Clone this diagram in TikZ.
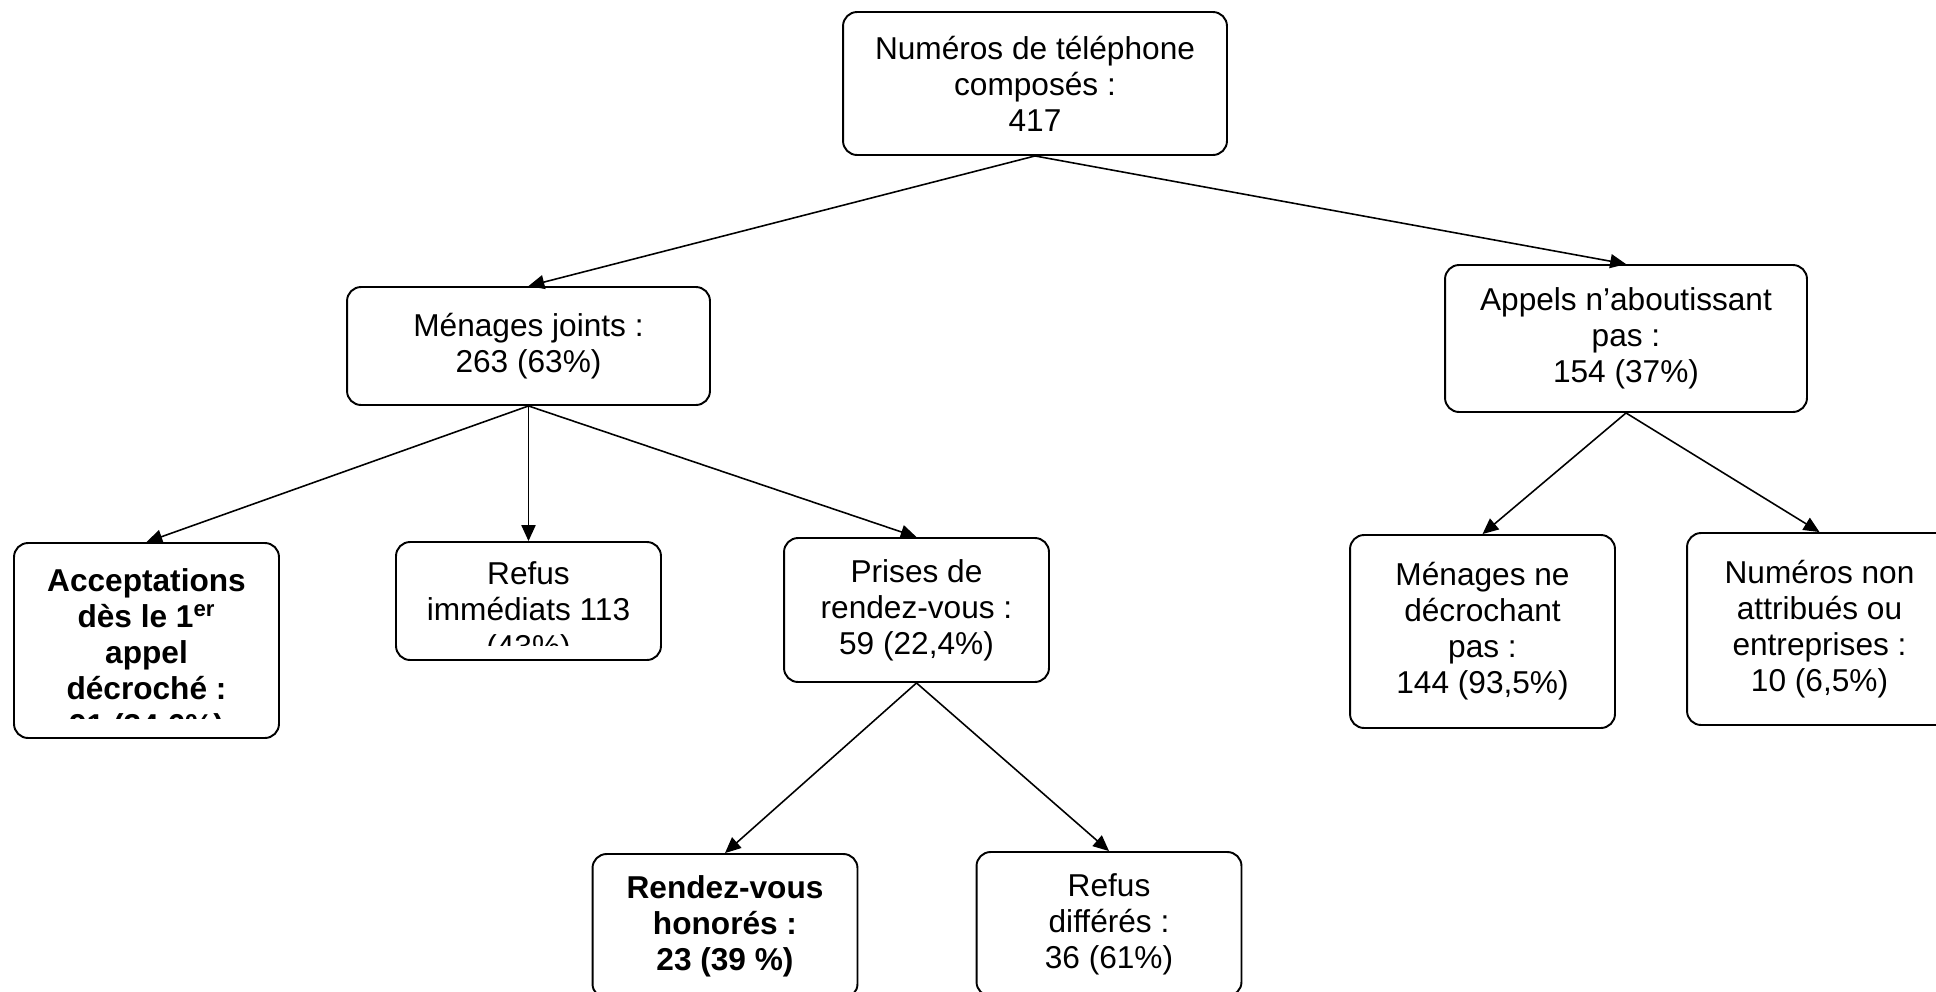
\documentclass[tikz,border=0pt]{standalone}
\usepackage{fontspec}
\setmainfont{Liberation Sans}
\usetikzlibrary{arrows.meta}

\newcommand{\boxfont}{\fontsize{18}{20.5}\selectfont}

\begin{document}
\begin{tikzpicture}[
    x=0.02cm, y=-0.02cm,
    box/.style={
      rectangle, rounded corners=8pt, draw, line width=1.1pt, align=center,
      inner sep=0pt, font=\boxfont
    },
    leaf/.style={box, minimum width=5.3cm},
    txt/.style={align=center, inner sep=0pt, font=\boxfont},
    link/.style={-{Triangle[length=9pt, width=8pt]}, line width=0.9pt}
  ]
    \clip (0,0) rectangle (1936,991);

    % top
    \node[box, minimum width=7.68cm, minimum height=2.86cm] (num) at (1035,83.5) {Numéros de téléphone\\composés :\\417};

    % second level
    \node[box, minimum width=7.26cm, minimum height=2.36cm] (joints) at (528.5,346) {Ménages joints :\\263 (63\%)};
    \node[box, minimum width=7.24cm, minimum height=2.94cm] (appels) at (1626,338.5) {Appels n’aboutissant\\pas :\\154 (37\%)};

    % third level
    \node[leaf, minimum height=3.9cm] (acc) at (146.5,640.5) {};
    \node[leaf, minimum height=2.36cm] (refim) at (528.5,601) {};
    \node[leaf, minimum height=2.88cm] (prises) at (916.5,610) {Prises de\\rendez-vous :\\59 (22,4\%)};
    \node[leaf, minimum height=3.86cm] (nodecr) at (1482.5,631.5) {Ménages ne\\décrochant\\pas :\\144 (93,5\%)};
    \node[leaf, minimum height=3.84cm] (nonattr) at (1819.5,629) {Numéros non\\attribués ou\\entreprises :\\10 (6,5\%)};

    % text running out of its box
    \coordinate (acccut) at (146.5,718);
    \begin{scope}
      \clip ([xshift=3pt]acc.north west) rectangle (acc.east |- acccut);
      \node[txt, font=\boxfont\bfseries, anchor=base] (acctext) at (146.5,736) {Acceptations\\dès le 1\textsuperscript{er}\\appel\\décroché :\\91 (34,6\%)};
    \end{scope}
    \coordinate (refimcut) at (528.5,645);
    \begin{scope}
      \clip ([xshift=3pt]refim.north west) rectangle (refim.east |- refimcut);
      \node[txt, anchor=base] (refimtext) at (528.5,657) {Refus\\immédiats 113\\(43\%)};
    \end{scope}

    % fourth level
    \node[leaf, minimum height=2.88cm, font=\boxfont\bfseries] (rdv) at (725,926) {Rendez-vous\\honorés :\\23 (39 \%)};
    \node[leaf, minimum height=2.88cm] (refdiff) at (1109,924) {Refus\\différés :\\36 (61\%)};

    \draw[link] (num.south) -- (joints.north);
    \draw[link] (num.south) -- (appels.north);
    \draw[link] (joints.south) -- (acc.north);
    \draw[link] (joints.south) -- (refim.north);
    \draw[link] (joints.south) -- (prises.north);
    \draw[link] (appels.south) -- (nodecr.north);
    \draw[link] (appels.south) -- (nonattr.north);
    \draw[link] (prises.south) -- (rdv.north);
    \draw[link] (prises.south) -- (refdiff.north);
\end{tikzpicture}
\end{document}
